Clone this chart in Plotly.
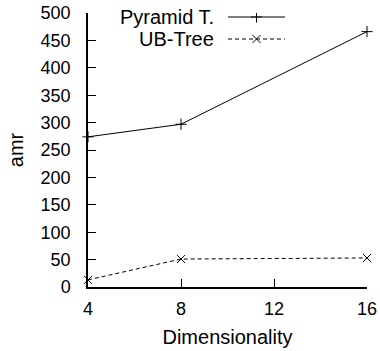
import plotly.graph_objects as go

dims = [4, 8, 16]
pyramid = [274, 297, 466]
ubtree = [13, 51, 53]
series_names = ["Pyramid T.", "UB-Tree"]
x_ticks = [4, 8, 12, 16]
y_ticks = list(range(0, 501, 50))

FAM = "Liberation Sans, Arial, Helvetica, sans-serif"
TICKFONT = dict(family=FAM, size=18, color="black")
TEXTFONT = dict(family=FAM, size=20, color="black")
L, R, T, B = 88, 13, 13, 64
W, H = 380, 351

fig = go.Figure()
fig.add_trace(go.Scatter(x=dims, y=pyramid, mode="lines+markers", name=series_names[0],
                         line=dict(color="black", width=1),
                         marker=dict(symbol="cross-thin-open", size=8, color="black", line=dict(width=1, color="black")),
                         showlegend=False, cliponaxis=False))
fig.add_trace(go.Scatter(x=dims, y=ubtree, mode="lines+markers", name=series_names[1],
                         line=dict(color="black", width=1, dash="4px,3px"),
                         marker=dict(symbol="x-thin-open", size=8, color="black", line=dict(width=1, color="black")),
                         showlegend=False, cliponaxis=False))

# legend drawn manually (text left of sample, gnuplot style) on a pixel overlay axis
leg_rows = [17, 39]
styles = [("solid", "cross-thin-open", 8), ("4px,3px", "x-thin-open", 8)]
for name, yy, (dash, sym, sz) in zip(series_names, leg_rows, styles):
    fig.add_trace(go.Scatter(x=[228, 285], y=[yy, yy], xaxis="x2", yaxis="y2", mode="lines",
                             line=dict(color="black", width=1, dash=dash), showlegend=False, hoverinfo="skip"))
    fig.add_trace(go.Scatter(x=[256.5], y=[yy], xaxis="x2", yaxis="y2", mode="markers",
                             marker=dict(symbol=sym, size=sz, color="black", line=dict(width=1, color="black")),
                             showlegend=False, hoverinfo="skip"))
    fig.add_annotation(x=216, y=yy, xref="x2", yref="y2", text=name, showarrow=False,
                       xanchor="right", yanchor="middle", font=TEXTFONT)

fig.update_layout(
    width=W, height=H, margin=dict(l=L, r=R, t=T, b=B, autoexpand=False),
    plot_bgcolor="white", paper_bgcolor="white", font=TICKFONT,
    xaxis=dict(range=[4, 16], tickvals=x_ticks, ticks="inside", ticklen=8, tickwidth=1.2,
               tickcolor="black", showline=True, linecolor="black", linewidth=1.5,
               showgrid=False, zeroline=False, tickfont=TICKFONT, ticklabelstandoff=5,
               automargin=False,
               title=dict(text="Dimensionality", font=TEXTFONT, standoff=12)),
    yaxis=dict(range=[0, 500], tickvals=y_ticks, ticks="inside", ticklen=8, tickwidth=1.2,
               tickcolor="black", showline=True, linecolor="black", linewidth=1.5,
               showgrid=False, zeroline=False, tickfont=TICKFONT, ticklabelstandoff=12,
               automargin=False,
               title=dict(text="amr", font=TEXTFONT, standoff=12)),
    xaxis2=dict(overlaying="x", range=[L, W - R], visible=False, fixedrange=True),
    yaxis2=dict(overlaying="y", range=[H - B, T], visible=False, fixedrange=True),
)

fig.write_html("out.html")
